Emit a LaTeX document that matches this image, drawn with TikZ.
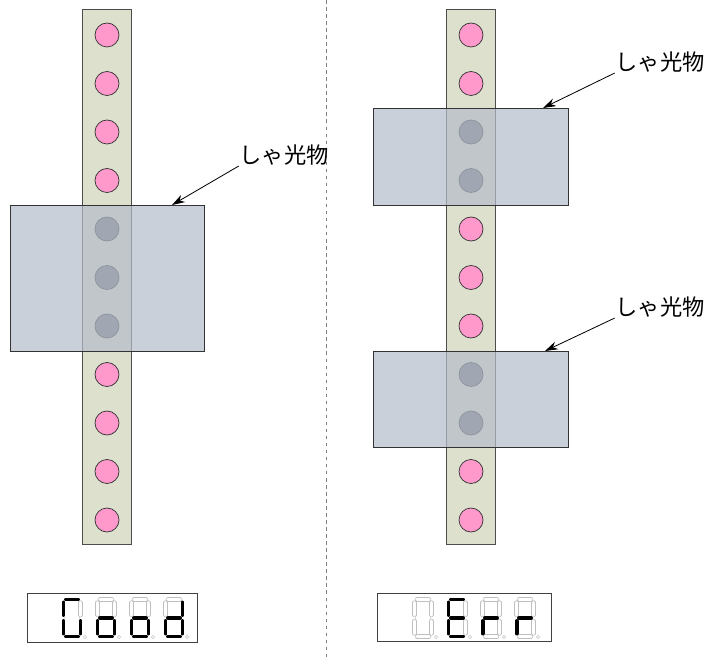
\documentclass[tikz,border=0pt]{standalone}
\usepackage{fontspec}
\newfontfamily\jpfont{Noto Sans CJK JP}
\usetikzlibrary{arrows.meta}

\definecolor{stripfill}{RGB}{221,224,204}
\definecolor{dotpink}{RGB}{255,153,204}
\definecolor{dotgray}{RGB}{116,118,128}
\definecolor{coverfill}{RGB}{180,188,202}

% one 7-segment digit: x, then a b c d e f g
\newcommand\segdigit[8]{%
  \draw[#2] (#1+4,599.5) -- (#1+16,599.5);
  \draw[#3] (#1+18.5,602.5) -- (#1+18.5,615);
  \draw[#4] (#1+18.5,621) -- (#1+18.5,633.5);
  \draw[#5] (#1+4,636.5) -- (#1+16,636.5);
  \draw[#6] (#1+1.5,621) -- (#1+1.5,633.5);
  \draw[#7] (#1+1.5,602.5) -- (#1+1.5,615);
  \draw[#8] (#1+4,618) -- (#1+16,618);
  \draw[black!30, line width=0.4pt] (#1+23,637) circle (1.6);
}

\begin{document}
\begin{tikzpicture}[x=0.03cm, y=-0.03cm,
  strip/.style={draw=black!70, line width=0.8pt, fill=stripfill},
  pinkdot/.style={draw=black!80, line width=0.6pt, fill=dotpink},
  graydot/.style={draw=black!80, line width=0.6pt, fill=dotgray},
  coverbox/.style={draw=black!80, line width=0.7pt, fill=coverfill, fill opacity=0.7},
  lbl/.style={font=\jpfont\fontsize{19}{22}\selectfont, inner sep=0.5pt},
  pointer/.style={-{Stealth[length=11pt, width=7pt]}, line width=0.7pt},
  panel/.style={draw=black!75, line width=0.8pt},
  segon/.style={line width=3.4pt, line cap=round, black},
  segoff/.style={draw=black!25, line width=0.5pt, double=white, double distance=2.6pt, line cap=round}]
\useasboundingbox (0,0) rectangle (708,657);

\draw[gray, dashed, line width=0.6pt] (326,0) -- (326,657);

\draw[strip] (82.5,9) rectangle (131.5,544);
\foreach \i in {0,1,2,3,7,8,9,10}
  \draw[pinkdot] (107,35+48.5*\i) circle (12);
\foreach \i in {4,5,6}
  \draw[graydot] (107,35+48.5*\i) circle (12);
\draw[coverbox] (10,205) rectangle (204,351);

\draw[strip] (446.5,9) rectangle (495.5,544);
\foreach \i in {0,1,4,5,6,9,10}
  \draw[pinkdot] (471,35+48.5*\i) circle (12);
\foreach \i in {2,3,7,8}
  \draw[graydot] (471,35+48.5*\i) circle (12);
\draw[coverbox] (373,108) rectangle (568,205);
\draw[coverbox] (373,351) rectangle (568,447);

\node[lbl] (coverA) at (284,155) {しゃ光物};
\coordinate (tipA) at (172,205);
\draw[pointer] (coverA.south west) -- (tipA);

\node[lbl] (coverB) at (660,62) {しゃ光物};
\coordinate (tipB) at (543,108);
\draw[pointer] (coverB.south west) -- (tipB);

\node[lbl] (coverC) at (660,307) {しゃ光物};
\coordinate (tipC) at (545,351);
\draw[pointer] (coverC.south west) -- (tipC);

\draw[panel] (27,593) rectangle (197,642);
\segdigit{62}{segon}{segoff}{segon}{segon}{segon}{segon}{segoff}
\segdigit{96}{segoff}{segoff}{segon}{segon}{segon}{segoff}{segon}
\segdigit{130}{segoff}{segoff}{segon}{segon}{segon}{segoff}{segon}
\segdigit{164}{segoff}{segon}{segon}{segon}{segon}{segoff}{segon}

\draw[panel] (377,593) rectangle (551,641);
\segdigit{413}{segoff}{segoff}{segoff}{segoff}{segoff}{segoff}{segoff}
\segdigit{447}{segon}{segoff}{segoff}{segon}{segon}{segon}{segon}
\segdigit{481}{segoff}{segoff}{segoff}{segoff}{segon}{segoff}{segon}
\segdigit{515}{segoff}{segoff}{segoff}{segoff}{segon}{segoff}{segon}
\end{tikzpicture}
\end{document}
